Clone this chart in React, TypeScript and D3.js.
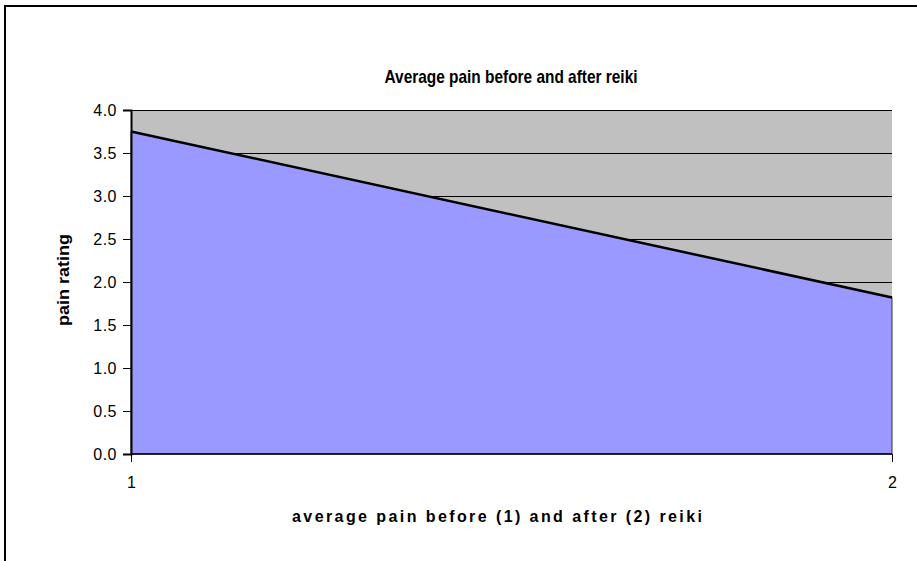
import React, { useEffect, useRef } from 'react';
import * as d3 from 'd3';

// data
const categories = ['1', '2'];
const painValues = [3.75, 1.82];
const yTicks = [0, 0.5, 1, 1.5, 2, 2.5, 3, 3.5, 4];

const chartTitle = 'Average pain before and after reiki';
const xTitle = 'average pain before (1) and after (2) reiki';
const yTitle = 'pain rating';

const App = () => {
  const ref = useRef(null);
  const W = 917;
  const H = 561;
  const plot = { left: 131, right: 892, top: 110, bottom: 454 };

  useEffect(() => {
    const svg = d3.select(ref.current);
    svg.selectAll('*').remove();

    const font = 'Arial, "Liberation Sans", sans-serif';

    // outer frame (cut by window on right and bottom)
    svg.append('rect')
      .attr('x', 5).attr('y', 6)
      .attr('width', 1200).attr('height', 1200)
      .attr('fill', '#fff')
      .attr('stroke', '#000')
      .attr('stroke-width', 2);

    const x = d3.scalePoint().domain(categories).range([plot.left, plot.right]);
    const y = d3.scaleLinear().domain([0, 4]).range([plot.bottom, plot.top]);

    const data = categories.map((c, i) => ({ c, v: painValues[i] }));

    // plot background
    svg.append('rect')
      .attr('x', plot.left).attr('y', plot.top)
      .attr('width', plot.right - plot.left)
      .attr('height', plot.bottom - plot.top)
      .attr('fill', '#C0C0C0');

    // gridlines
    svg.append('g')
      .selectAll('line')
      .data(yTicks.filter(t => t > 0))
      .join('line')
      .attr('x1', plot.left).attr('x2', plot.right)
      .attr('y1', d => y(d)).attr('y2', d => y(d))
      .attr('stroke', '#000')
      .attr('stroke-width', 1)
      .attr('shape-rendering', 'crispEdges');

    // area
    const area = d3.area()
      .x(d => x(d.c))
      .y0(y(0))
      .y1(d => y(d.v));
    svg.append('path')
      .datum(data)
      .attr('d', area)
      .attr('fill', '#9999FF')
      .attr('stroke', '#333')
      .attr('stroke-width', 1);

    const line = d3.line()
      .x(d => x(d.c))
      .y(d => y(d.v));
    svg.append('path')
      .datum(data)
      .attr('d', line)
      .attr('fill', 'none')
      .attr('stroke', '#000')
      .attr('stroke-width', 2.5);

    // y axis
    const yAxis = svg.append('g')
      .attr('transform', `translate(${plot.left},0)`)
      .call(d3.axisLeft(y).tickValues(yTicks).tickFormat(d3.format('.1f')).tickSize(8).tickPadding(6));
    yAxis.select('.domain').attr('stroke', '#000').attr('stroke-width', 2);
    yAxis.selectAll('.tick line').attr('stroke', '#000');
    yAxis.selectAll('text')
      .attr('font-family', font)
      .attr('font-size', 16)
      .attr('letter-spacing', 0.5)
      .attr('fill', '#000');

    // x axis
    const xAxis = svg.append('g')
      .attr('transform', `translate(0,${plot.bottom})`)
      .call(d3.axisBottom(x).tickSize(8).tickPadding(15));
    xAxis.select('.domain').attr('d', `M${plot.left},0H${plot.right}`).attr('stroke', '#000').attr('stroke-width', 1.5);
    xAxis.selectAll('.tick line').attr('stroke', '#000');
    xAxis.selectAll('text')
      .attr('font-family', font)
      .attr('font-size', 16)
      .attr('fill', '#000');

    // titles
    svg.append('text')
      .attr('x', 511).attr('y', 83)
      .attr('text-anchor', 'middle')
      .attr('font-family', font)
      .attr('font-size', 19)
      .attr('font-weight', 'bold')
      .attr('textLength', 253)
      .attr('lengthAdjust', 'spacingAndGlyphs')
      .text(chartTitle);

    svg.append('text')
      .attr('x', 497).attr('y', 522)
      .attr('text-anchor', 'middle')
      .attr('font-family', font)
      .attr('font-size', 16)
      .attr('font-weight', 'bold')
      .attr('textLength', 410)
      .attr('lengthAdjust', 'spacing')
      .text(xTitle);

    svg.append('text')
      .attr('transform', `translate(69,280) rotate(-90)`)
      .attr('text-anchor', 'middle')
      .attr('font-family', font)
      .attr('font-size', 16)
      .attr('font-weight', 'bold')
      .attr('textLength', 92)
      .attr('lengthAdjust', 'spacingAndGlyphs')
      .text(yTitle);
  }, []);

  return (
    <svg
      ref={ref}
      width={W}
      height={H}
      style={{ position: 'absolute', left: 0, top: 0, background: '#fff' }}
    />
  );
};

export default App;
